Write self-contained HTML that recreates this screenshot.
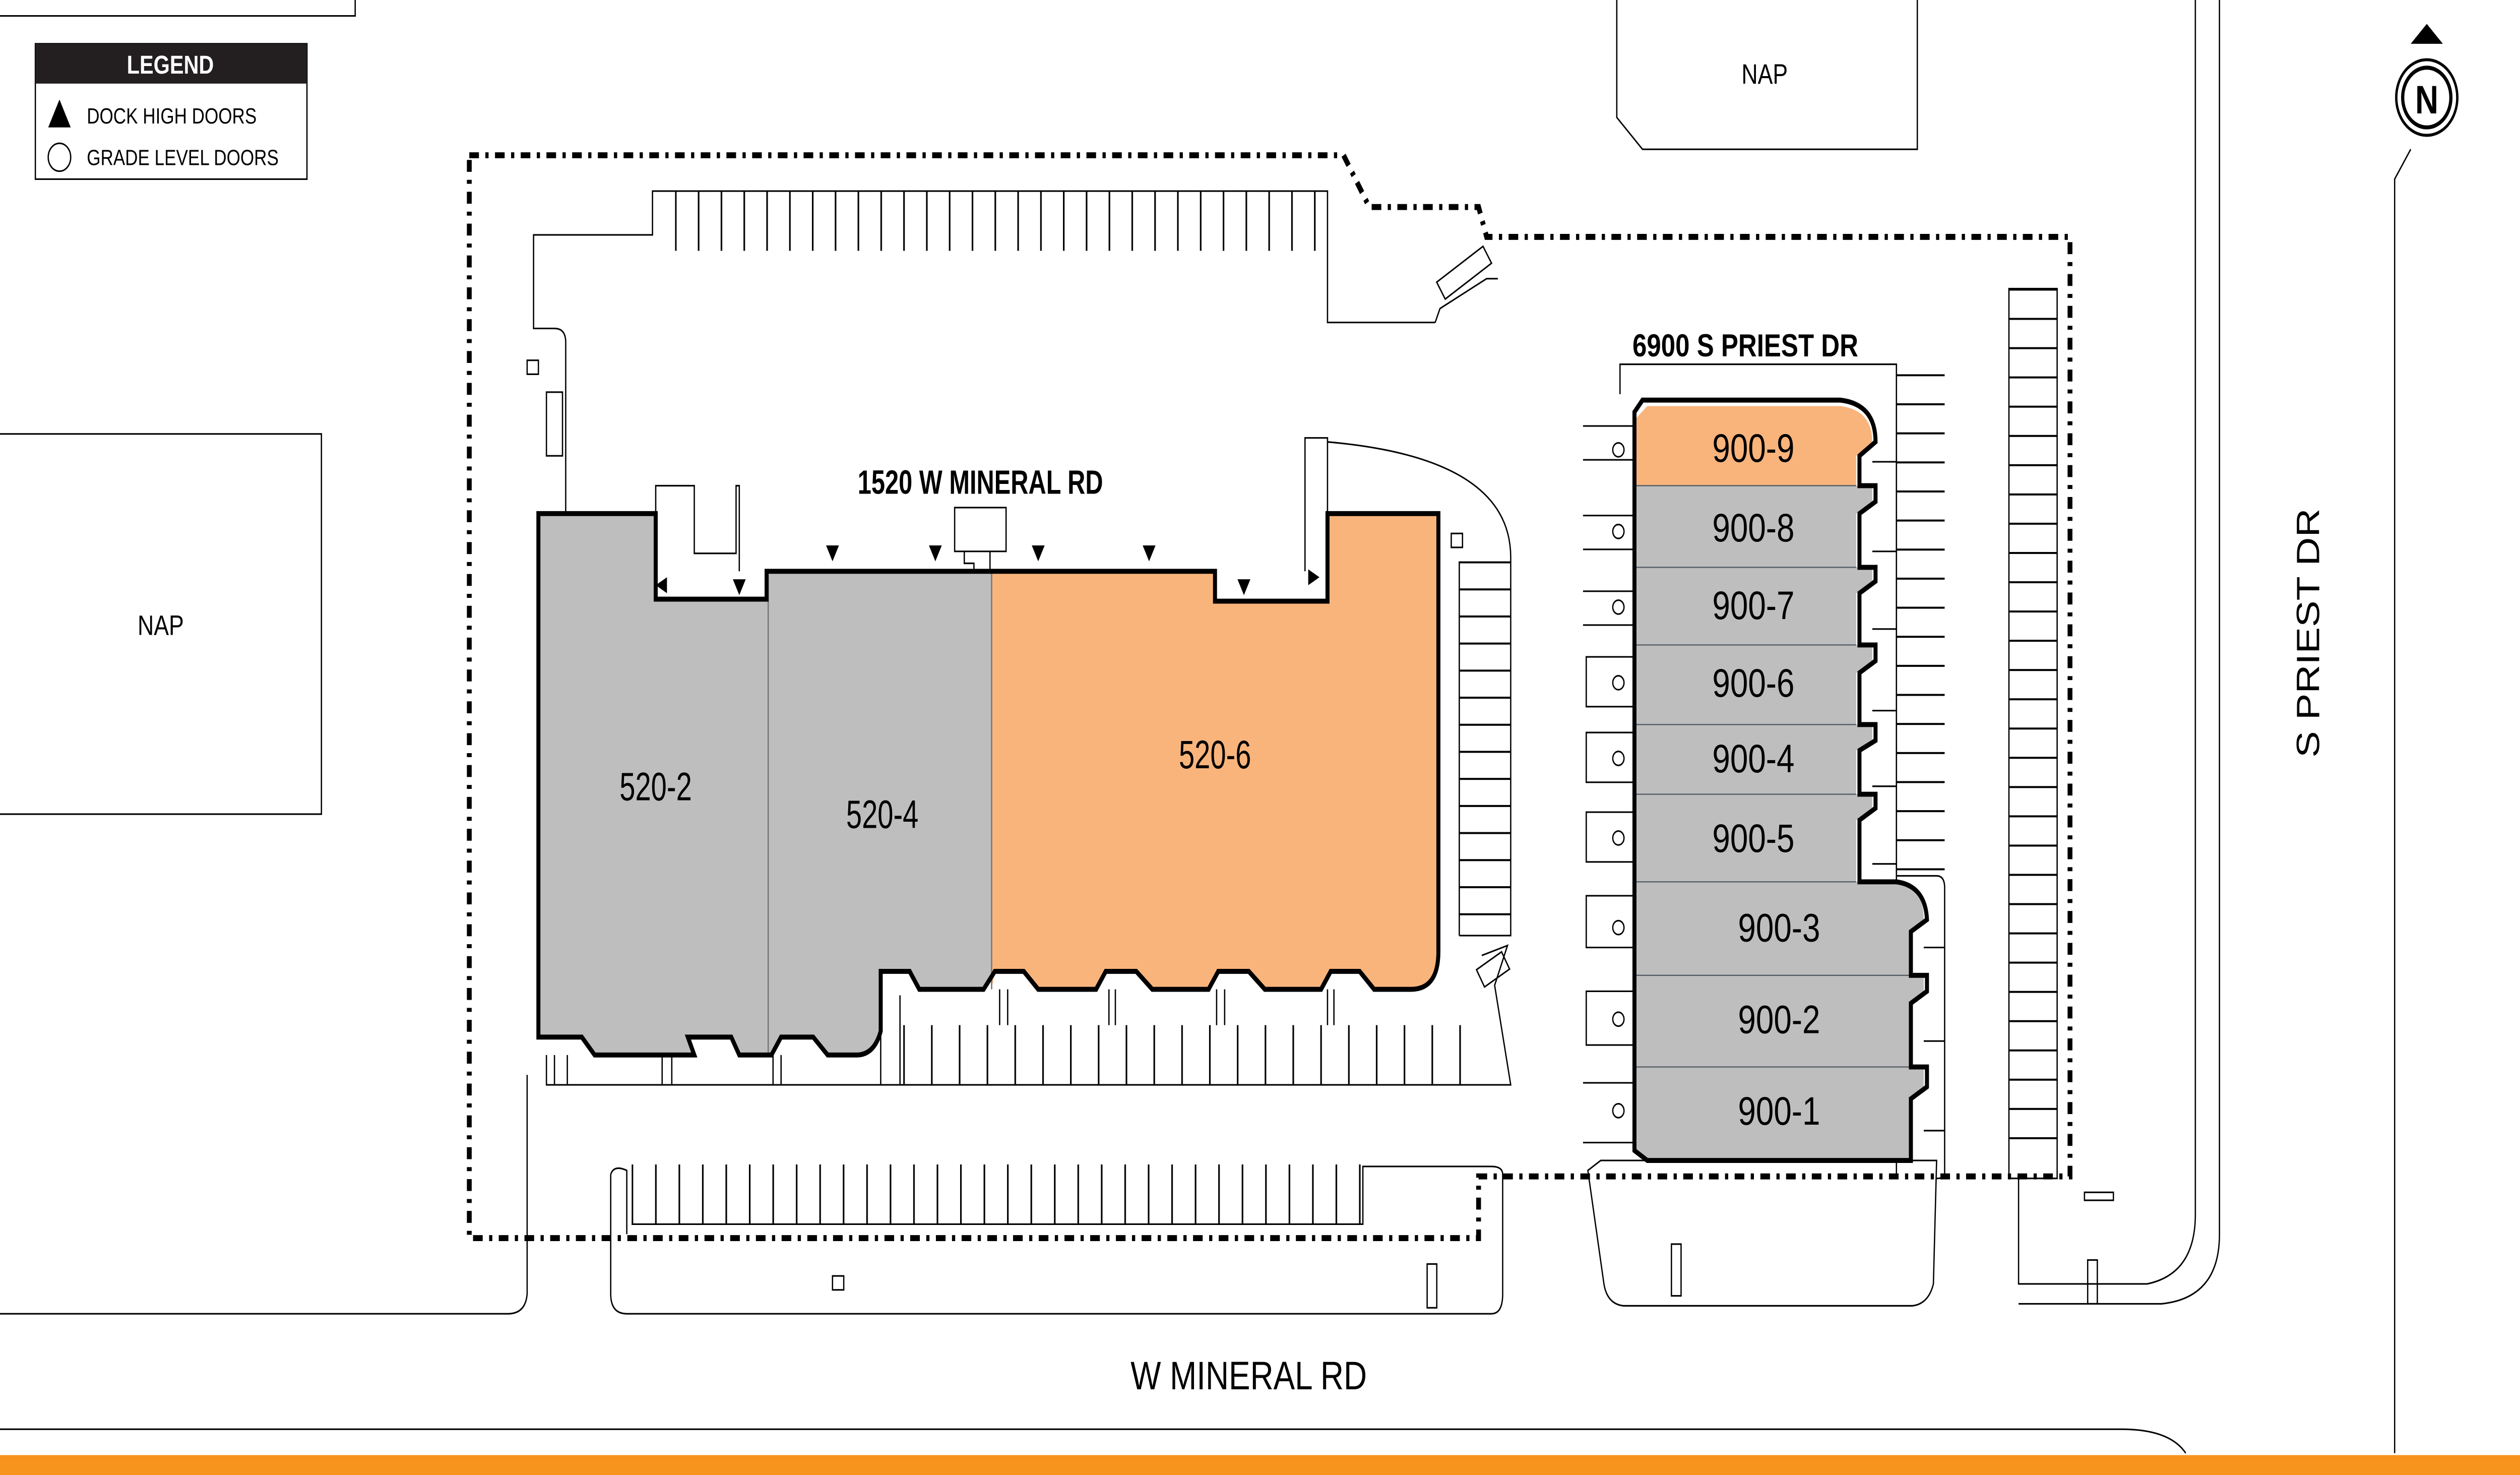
<!DOCTYPE html>
<html><head><meta charset="utf-8"><style>
html,body{margin:0;padding:0;background:#fff;width:100%;height:100%;overflow:hidden}
svg{display:block;width:100vw;height:100vh}
text{font-family:"Liberation Sans",sans-serif}
</style></head><body>
<svg viewBox="0 0 1568 741" preserveAspectRatio="none" xmlns="http://www.w3.org/2000/svg">
<defs>
<pattern id="v14" patternUnits="userSpaceOnUse" width="14.2" height="10" x="420"><line x1="0.5" y1="0" x2="0.5" y2="10" stroke="#000" stroke-width="1"/></pattern>
<pattern id="v17" patternUnits="userSpaceOnUse" width="17.3" height="10" x="562"><line x1="0.5" y1="0" x2="0.5" y2="10" stroke="#000" stroke-width="1"/></pattern>
<pattern id="v15" patternUnits="userSpaceOnUse" width="14.6" height="10" x="393"><line x1="0.5" y1="0" x2="0.5" y2="10" stroke="#000" stroke-width="1"/></pattern>
<pattern id="h15" patternUnits="userSpaceOnUse" width="10" height="14.7" y="145"><line x1="0" y1="0.5" x2="10" y2="0.5" stroke="#000" stroke-width="1"/></pattern>
<pattern id="h15b" patternUnits="userSpaceOnUse" width="10" height="14.6" y="188"><line x1="0" y1="0.5" x2="10" y2="0.5" stroke="#000" stroke-width="1"/></pattern>
<pattern id="h14" patternUnits="userSpaceOnUse" width="10" height="13.6" y="282"><line x1="0" y1="0.5" x2="10" y2="0.5" stroke="#000" stroke-width="1"/></pattern>
</defs>
<rect width="1568" height="741" fill="#fff"/>
<g fill="none" stroke="#000" stroke-width="0.8">
<path d="M0 8 H221 V0"/>
<rect x="-1" y="218" width="201" height="191"/>
<path d="M1006 0 V59 L1022 75 H1193 V0"/>
<path d="M1366 0 V610 Q1366 640 1336 645 H1256 V592"/>
<path d="M1381 0 V620 Q1381 652 1345 655 H1256"/>
<path d="M1500 75 L1490 90 V730"/>
<path d="M0 718 H1320 Q1350 718 1360 730"/>
<path d="M0 660 H316 Q327 660 328 650 V540"/>
<path d="M352 258 V172 Q352 165 345 165 H332 V118 H406 V96 H826 V162 H893"/>
<path d="M893 162 L896 155 L925 140 L932 140"/>
<rect x="894" y="132" width="34" height="10" transform="rotate(-32 911 137)"/>
<path d="M408 258 V244 H432 V278 H458 V244 H460 V287"/>
<path d="M826 258 V220 H812 V287"/>
<path d="M826 222 Q940 230 940 280 V470 H908"/>
<path d="M908 282 V470"/>
<path d="M922 480 L938 475 L930 495 L940 545 H560"/>
<rect x="920" y="482" width="18" height="10" transform="rotate(-30 929 487)"/>
<path d="M560 500 V545"/>
<path d="M340 530 V545 H560"/>
<path d="M380 590 Q382 585 390 588 V620 M380 590 V650 Q380 660 390 660 H928 Q935 660 935 650 V590 Q935 586 928 586 H848 V615 H393"/>
<rect x="888" y="635" width="6" height="22"/>
<rect x="518" y="641" width="7" height="7"/>
<rect x="328" y="181" width="7" height="7"/>
<rect x="340" y="197" width="10" height="32"/>
<rect x="903" y="268" width="7" height="7"/>
<rect x="594" y="255" width="32" height="22"/>
<path d="M600 277 V283 H606 V287 M616 277 V287"/>
<path d="M1008 198 V183 H1180 V440 H1205 Q1210 440 1210 446 V590 Q1210 592 1205 592"/>
<path d="M1180 440 V592"/>
<path d="M988 588 L996 583 H1205 L1203 645 Q1200 655 1190 656 H1010 Q1000 655 998 645 Z"/>
<rect x="1040" y="625" width="6" height="26"/>
<rect x="1299" y="633" width="6" height="22"/>
<rect x="1297" y="599" width="18" height="4"/>
<path d="M1250 145 V592 H1280 V145 Z"/>
</g>
<rect x="420" y="96" width="402" height="30" fill="url(#v14)"/>
<rect x="562" y="515" width="356" height="30" fill="url(#v17)"/>
<rect x="393" y="585" width="455" height="30" fill="url(#v15)"/>
<rect x="1250" y="145" width="30" height="440" fill="url(#h15)"/>
<rect x="1180" y="188" width="30" height="250" fill="url(#h15b)"/>
<rect x="908" y="282" width="32" height="188" fill="url(#h14)"/>
<g stroke="#000" stroke-width="0.8" fill="none">
<path d="M985 214 H1017 M985 231 H1017 M985 259 H1017 M985 276 H1017 M985 297 H1017 M985 314 H1017 M987 330 H1017 V355 H987 Z M987 368 H1017 V393 H987 Z M987 408 H1017 V433 H987 Z M987 450 H1017 V476 H987 Z M987 498 H1017 V525 H987 Z M985 544 H1017 M985 574 H1017"/>
<path d="M1180 206 V440 M1165 232 H1180 M1165 277 H1180 M1165 316 H1180 M1165 357 H1180 M1165 395 H1180 M1165 434 H1180 M1197 476 H1210 M1197 523 H1210 M1197 568 H1210"/>
<path d="M345 530 V545 M353 530 V545 M412 530 V545 M418 530 V545 M481 530 V545 M486 530 V545 M548 500 V545 M622 497 V515 M627 497 V515 M690 497 V515 M694 497 V515 M757 497 V515 M762 497 V515 M826 497 V515 M830 497 V515"/>
</g>
<g fill="none" stroke="#000" stroke-width="0.8">
<circle cx="1007" cy="226" r="3.5"/><circle cx="1007" cy="267" r="3.5"/><circle cx="1007" cy="305" r="3.5"/><circle cx="1007" cy="343" r="3.5"/><circle cx="1007" cy="381" r="3.5"/><circle cx="1007" cy="421" r="3.5"/><circle cx="1007" cy="466" r="3.5"/><circle cx="1007" cy="512" r="3.5"/><circle cx="1007" cy="558" r="3.5"/>
</g>
<path d="M292 78 H836 L852 104 H920 L925 119 H1288 V591 H920 V622 H292 Z" fill="none" stroke="#000" stroke-width="3" stroke-dasharray="6,4,2,4"/>
<path d="M335 258 H408 V301 H477 V287 H756 V302 H826 V258 H895 V478 Q895 497 878 497 H855 L846 488 H828 L822 497 H787 L777 488 H758 L752 497 H717 L707 488 H688 L682 497 H646 L637 488 H619 L612 497 H572 L566 488 H548 V518 Q544 530 533 530 H515 L506 521 H486 L480 530 H460 L455 521 H438 L428 521 L432 530 H370 L362 521 H335 Z" fill="#bebebe"/>
<path d="M617 287 H756 V302 H826 V258 H895 V478 Q895 497 878 497 H855 L846 488 H828 L822 497 H787 L777 488 H758 L752 497 H717 L707 488 H688 L682 497 H646 L637 488 H619 L617 497 Z" fill="#f9b47c"/>
<line x1="478" y1="289" x2="478" y2="530" stroke="#777" stroke-width="0.8"/>
<line x1="617" y1="287" x2="617" y2="497" stroke="#777" stroke-width="0.8"/>
<path d="M335 258 H408 V301 H477 V287 H756 V302 H826 V258 H895 V478 Q895 497 878 497 H855 L846 488 H828 L822 497 H787 L777 488 H758 L752 497 H717 L707 488 H688 L682 497 H646 L637 488 H619 L612 497 H572 L566 488 H548 V518 Q544 530 533 530 H515 L506 521 H486 L480 530 H460 L455 521 H438 L428 521 L432 530 H370 L362 521 H335 Z" fill="none" stroke="#000" stroke-width="2.5"/>
<g fill="#000">
<path d="M514 274 h8 l-4 8z M578 274 h8 l-4 8z M642 274 h8 l-4 8z M711 274 h8 l-4 8z M456 291 h8 l-4 8z M770 291 h8 l-4 8z M415 290 v8 l-7 -4z M814 286 v8 l7 -4z"/>
</g>
<path d="M1017 211 L1025 204 H1145 Q1165 206 1165 222 L1155 229 V244 H1017 Z" fill="#f9b47c"/>
<path d="M1017 244 H1165 V252 L1155 258 V285 H1165 V292 L1155 298 V324 H1165 V332 L1155 338 V364 H1165 V372 L1155 377 V399 H1165 V406 L1155 412 V443 H1180 Q1197 445 1197 462 L1188 468 V490 H1197 V498 L1188 504 V536 H1197 V546 L1188 552 V582 H1025 L1017 578 Z" fill="#bebebe"/>
<g stroke="#555d66" stroke-width="0.6"><path d="M1017 244 H1155 M1017 285 H1155 M1017 324 H1155 M1017 364 H1155 M1017 399 H1155 M1017 443 H1155 M1017 490 H1188 M1017 536 H1188"/></g>
<path d="M1017 578 V207 L1022 201 H1145 Q1167 203 1167 222 L1157 229 V244 H1167 V252 L1157 258 V285 H1167 V292 L1157 298 V324 H1167 V332 L1157 338 V364 H1167 V372 L1157 377 V399 H1167 V406 L1157 412 V443 H1180 Q1198 445 1199 462 L1189 468 V490 H1199 V498 L1189 504 V536 H1199 V546 L1189 552 V583 H1025 Z" fill="none" stroke="#000" stroke-width="2.5"/>
<g font-size="20" fill="#000" text-anchor="middle">
<text x="1091" y="232">900-9</text><text x="1091" y="272">900-8</text><text x="1091" y="311">900-7</text><text x="1091" y="350">900-6</text><text x="1091" y="388">900-4</text><text x="1091" y="428">900-5</text>
<text x="1107" y="473">900-3</text><text x="1107" y="519">900-2</text><text x="1107" y="565">900-1</text>
<text x="408" y="402" transform="translate(408 402) scale(0.88 1) translate(-408 -402)">520-2</text>
<text x="549" y="416" transform="translate(549 416) scale(0.88 1) translate(-549 -416)">520-4</text>
<text x="756" y="386" transform="translate(756 386) scale(0.88 1) translate(-756 -386)">520-6</text>
</g>
<text x="610" y="248" font-size="17" font-weight="bold" text-anchor="middle" transform="translate(610 248) scale(0.9 1) translate(-610 -248)">1520 W MINERAL RD</text>
<text x="1086" y="179" font-size="16" font-weight="bold" text-anchor="middle">6900 S PRIEST DR</text>
<text x="100" y="319" font-size="14" text-anchor="middle">NAP</text>
<text x="1098" y="42" font-size="14" text-anchor="middle">NAP</text>
<text x="777" y="698" font-size="20" text-anchor="middle">W MINERAL RD</text>
<text x="1443" y="318" font-size="20" text-anchor="middle" transform="rotate(-90 1443 318)">S PRIEST DR</text>
<rect x="22" y="22" width="169" height="68" fill="#fff" stroke="#000" stroke-width="0.8"/>
<rect x="22" y="22" width="169" height="20" fill="#231f20"/>
<text x="106" y="37" font-size="13" font-weight="bold" fill="#fff" text-anchor="middle">LEGEND</text>
<path d="M30 64 L37 50 L44 64 Z" fill="#000"/>
<text x="54" y="62" font-size="11">DOCK HIGH DOORS</text>
<circle cx="37" cy="79" r="7" fill="none" stroke="#000" stroke-width="0.8"/>
<text x="54" y="83" font-size="11">GRADE LEVEL DOORS</text>
<path d="M1500 22 L1510 12 L1520 22 Z" fill="#000"/>
<circle cx="1510" cy="49" r="19" fill="#fff" stroke="#000" stroke-width="1.5"/>
<circle cx="1510" cy="49" r="15" fill="#fff" stroke="#000" stroke-width="2"/>
<text x="1510" y="57" font-size="20" font-weight="bold" text-anchor="middle">N</text>
<rect x="0" y="731" width="1568" height="10" fill="#f7941d"/>
</svg>
</body></html>
